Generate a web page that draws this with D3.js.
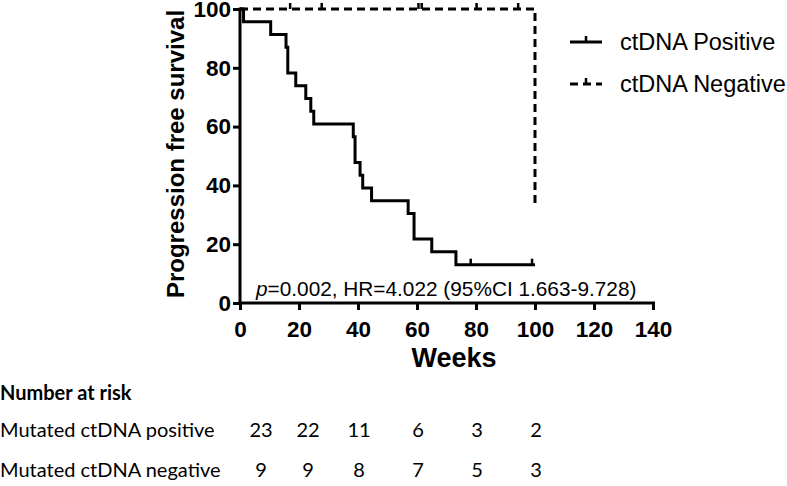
<!DOCTYPE html>
<html><head><meta charset="utf-8">
<script src="https://cdn.jsdelivr.net/npm/d3@7"></script>
<style>body{margin:0;background:#fff}svg{display:block}</style>
</head><body><svg id="c" width="787" height="486"></svg>
<script>
// ---- data ----
const xTicks = [0, 20, 40, 60, 80, 100, 120, 140];
const yTicks = [0, 20, 40, 60, 80, 100];
const posTimes = [0, 1.2, 10.4, 15.6, 16.2, 18.9, 22.3, 24, 25, 38.4, 39, 40.7, 41.6, 44.6, 57, 59, 65, 73.2, 100];
const posSurv  = [100, 95.65, 91.30, 86.96, 78.26, 73.91, 69.57, 65.22, 60.87, 56.52, 47.83, 43.48, 39.13, 34.78, 30.43, 21.74, 17.39, 13.04, 13.04];
const posCensorTimes = [78.2, 99];
const posCensorSurv = [13.04, 13.04];
const negTimes = [0, 100, 100];
const negSurv = [100, 100, 33.33];
const negCensorTimes = [17, 27.7, 60.5, 61.6, 80.2, 94.3];
const negCensorSurv = [100, 100, 100, 100, 100, 100];
const legendLabels = ["ctDNA Positive", "ctDNA Negative"];
const riskTitle = "Number at risk";
const riskGroups = ["Mutated ctDNA positive", "Mutated ctDNA negative"];
const riskWeeks = [0, 20, 40, 60, 80, 100];
const riskPos = [23, 22, 11, 6, 3, 2];
const riskNeg = [9, 9, 8, 7, 5, 3];

// ---- chart ----
const svg = d3.select("#c");
const x = d3.scaleLinear().domain([0, 140]).range([240, 653]);
const y = d3.scaleLinear().domain([0, 100]).range([303, 9]);
const AR = "'Liberation Sans', Arial, sans-serif";

const gx = svg.append("g").attr("transform", "translate(0,303)")
  .call(d3.axisBottom(x).tickValues(xTicks).tickSize(7).tickSizeOuter(0).tickPadding(11));
const gy = svg.append("g").attr("transform", "translate(240,0)")
  .call(d3.axisLeft(y).tickValues(yTicks).tickSize(7).tickSizeOuter(0).tickPadding(2));
[gx, gy].forEach(g => {
  g.select(".domain").attr("stroke", "#000").attr("stroke-width", 3);
  g.selectAll(".tick line").attr("stroke", "#000").attr("stroke-width", 3);
  g.selectAll(".tick text").attr("fill", "#000").style("font-family", AR)
    .style("font-weight", "bold").style("font-size", "22.5px");
});
gx.select(".domain").attr("d", "M238.5,0H655");
gy.select(".domain").attr("d", "M0,304.5V7.5");

svg.append("text").attr("transform", "translate(184,154) rotate(-90)")
  .attr("text-anchor", "middle").style("font-family", AR).style("font-weight", "bold")
  .style("font-size", "24px").text("Progression free survival");
svg.append("text").attr("x", 454).attr("y", 367).attr("text-anchor", "middle")
  .style("font-family", AR).style("font-weight", "bold").style("font-size", "27px").text("Weeks");

const ann = svg.append("text").attr("x", 256).attr("y", 296).style("font-family", AR).style("font-size", "20.8px");
ann.append("tspan").style("font-style", "italic").text("p");
ann.append("tspan").text("=0.002, HR=4.022 (95%CI 1.663-9.728)");

const line = d3.line().curve(d3.curveStepAfter).x(d => x(d[0])).y(d => y(d[1]));
svg.append("path").datum(posTimes.map((t, i) => [t, posSurv[i]])).attr("d", line)
  .attr("fill", "none").attr("stroke", "#000").attr("stroke-width", 3);
svg.append("path").datum(negTimes.map((t, i) => [t, negSurv[i]]))
  .attr("d", d3.line().x(d => x(d[0])).y(d => y(d[1])))
  .attr("fill", "none").attr("stroke", "#000").attr("stroke-width", 3).attr("stroke-dasharray", "8,5");

function censor(times, surv) {
  svg.append("g").selectAll("line").data(times.map((t, i) => [t, surv[i]])).join("line")
    .attr("x1", d => x(d[0])).attr("x2", d => x(d[0]))
    .attr("y1", d => y(d[1])).attr("y2", d => y(d[1]) - 6)
    .attr("stroke", "#000").attr("stroke-width", 2.5);
}
censor(posCensorTimes, posCensorSurv);
censor(negCensorTimes, negCensorSurv);

// legend
const lg = svg.append("g");
legendLabels.forEach((lab, i) => {
  const cy = 42 + i * 42;
  lg.append("line").attr("x1", 570).attr("x2", 602).attr("y1", cy).attr("y2", cy)
    .attr("stroke", "#000").attr("stroke-width", 3).attr("stroke-dasharray", i ? "8,5" : null);
  lg.append("line").attr("x1", 586).attr("x2", 586).attr("y1", cy).attr("y2", cy - 6)
    .attr("stroke", "#000").attr("stroke-width", 2.5);
  lg.append("text").attr("x", 620).attr("y", cy + 8).style("font-family", AR).style("font-size", "23.5px").text(lab);
});

// risk table
const CF = "Lato, 'Open Sans', sans-serif";
svg.append("text").attr("x", 0).attr("y", 400).style("font-family", CF).style("font-weight", "bold")
  .style("font-size", "20px").text(riskTitle);
[riskPos, riskNeg].forEach((row, r) => {
  const by = 437 + r * 40;
  svg.append("text").attr("x", 0).attr("y", by).style("font-family", CF).style("font-size", "20px").text(riskGroups[r]);
  svg.append("g").selectAll("text").data(row).join("text")
    .attr("x", (d, i) => x(riskWeeks[i]) + (i === 0 ? 21 : i === 1 ? 9 : 1))
    .attr("y", by).attr("text-anchor", "middle")
    .style("font-family", CF).style("font-size", "20px").text(d => d);
});
</script></body></html>
